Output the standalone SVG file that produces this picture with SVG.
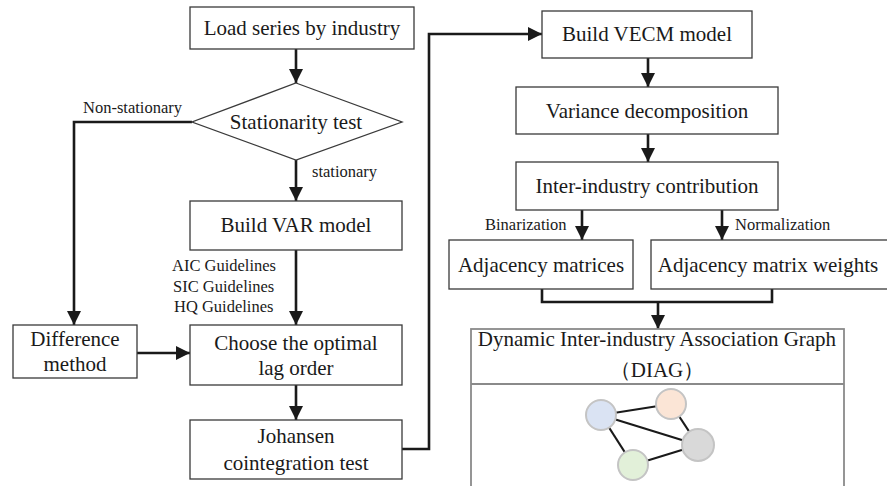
<svg xmlns="http://www.w3.org/2000/svg" width="887" height="486" viewBox="0 0 887 486">
<style>
.box{fill:#fff;stroke:#3a3a3a;stroke-width:1.3}
.t{font-family:"Liberation Serif","Times New Roman",serif;font-size:21px;fill:#1a1a1a;text-anchor:middle}
.s{font-family:"Liberation Serif","Times New Roman",serif;font-size:16.5px;fill:#1a1a1a}
.c{fill:none;stroke:#1a1a1a;stroke-width:2.6}
.e{stroke:#1a1a1a;stroke-width:2.2}
.n{stroke:#c4c4c4;stroke-width:2}
</style>
<defs>
<marker id="ah" markerWidth="14" markerHeight="14" viewBox="0 0 14 14" refX="14" refY="7" orient="auto" markerUnits="userSpaceOnUse">
<path d="M0,0 L14,7 L0,14 Z" fill="#1a1a1a"/>
</marker>
</defs>
<g id="connectors">
<line class="c" x1="296" y1="49" x2="296" y2="83" marker-end="url(#ah)"/>
<line class="c" x1="296" y1="160" x2="296" y2="201" marker-end="url(#ah)"/>
<polyline class="c" points="192,122 74,122 74,325" marker-end="url(#ah)"/>
<line class="c" x1="296" y1="250" x2="296" y2="325" marker-end="url(#ah)"/>
<line class="c" x1="137" y1="353" x2="190" y2="353" marker-end="url(#ah)"/>
<line class="c" x1="296" y1="385" x2="296" y2="420" marker-end="url(#ah)"/>
<polyline class="c" points="402,449 429,449 429,34 542,34" marker-end="url(#ah)"/>
<line class="c" x1="648" y1="58" x2="648" y2="87" marker-end="url(#ah)"/>
<line class="c" x1="648" y1="134" x2="648" y2="162" marker-end="url(#ah)"/>
<line class="c" x1="582" y1="210" x2="582" y2="240" marker-end="url(#ah)"/>
<line class="c" x1="722" y1="210" x2="722" y2="240" marker-end="url(#ah)"/>
<polyline class="c" points="542,289 542,302 772,302 772,289"/>
<line class="c" x1="658" y1="302" x2="658" y2="329" marker-end="url(#ah)"/>
<text class="s" x="83" y="113">Non-stationary</text>
<text class="s" x="312" y="177">stationary</text>
<text class="s" x="172" y="271">AIC Guidelines</text>
<text class="s" x="173" y="292">SIC Guidelines</text>
<text class="s" x="174" y="312">HQ Guidelines</text>
<text class="s" x="485" y="230">Binarization</text>
<text class="s" x="735" y="230">Normalization</text>
</g>
<g id="load">
<rect class="box" x="190" y="7" width="224" height="42"/>
<text class="t" x="302" y="35">Load series by industry</text>
</g>
<g id="stationarity">
<polygon class="box" points="296,83 402,122 296,160 192,122"/>
<text class="t" x="296" y="129">Stationarity test</text>
</g>
<g id="var">
<rect class="box" x="190" y="201" width="212" height="49"/>
<text class="t" x="296" y="232">Build VAR model</text>
</g>
<g id="difference">
<rect class="box" x="13" y="325" width="124" height="53"/>
<text class="t" x="75" y="346">Difference</text>
<text class="t" x="75" y="371">method</text>
</g>
<g id="lag">
<rect class="box" x="190" y="325" width="212" height="60"/>
<text class="t" x="296" y="350">Choose the optimal</text>
<text class="t" x="296" y="375">lag order</text>
</g>
<g id="johansen">
<rect class="box" x="190" y="420" width="212" height="59"/>
<text class="t" x="296" y="443">Johansen</text>
<text class="t" x="296" y="470">cointegration test</text>
</g>
<g id="vecm">
<rect class="box" x="542" y="11" width="210" height="47"/>
<text class="t" x="647" y="41">Build VECM model</text>
</g>
<g id="variance">
<rect class="box" x="516" y="87" width="262" height="47"/>
<text class="t" x="647" y="118">Variance decomposition</text>
</g>
<g id="contribution">
<rect class="box" x="516" y="162" width="262" height="48"/>
<text class="t" x="647" y="193">Inter-industry contribution</text>
</g>
<g id="adjacency">
<rect class="box" x="449" y="240" width="184" height="49"/>
<text class="t" x="541" y="272">Adjacency matrices</text>
</g>
<g id="weights">
<rect class="box" x="651" y="240" width="240" height="49"/>
<text class="t" x="768" y="272">Adjacency matrix weights</text>
</g>
<g id="diag">
<rect x="471" y="329" width="373" height="170" fill="#fff" stroke="#8a8a8a" stroke-width="1.8"/>
<line x1="471" y1="384" x2="844" y2="384" stroke="#8a8a8a" stroke-width="1.8"/>
<text class="t" x="657" y="346">Dynamic Inter-industry Association Graph</text>
<text class="t" x="657" y="377">（DIAG）</text>
<line class="e" x1="601" y1="415" x2="671" y2="404"/>
<line class="e" x1="601" y1="415" x2="698" y2="445"/>
<line class="e" x1="601" y1="415" x2="633" y2="465"/>
<line class="e" x1="671" y1="404" x2="698" y2="445"/>
<line class="e" x1="698" y1="445" x2="633" y2="465"/>
<circle class="n" cx="601" cy="415" r="15" fill="#dae3f3"/>
<circle class="n" cx="671" cy="404" r="15" fill="#fbe5d6"/>
<circle class="n" cx="698" cy="445" r="16" fill="#d9d9d9"/>
<circle class="n" cx="633" cy="465" r="15" fill="#e2f0d9"/>
</g>
</svg>
